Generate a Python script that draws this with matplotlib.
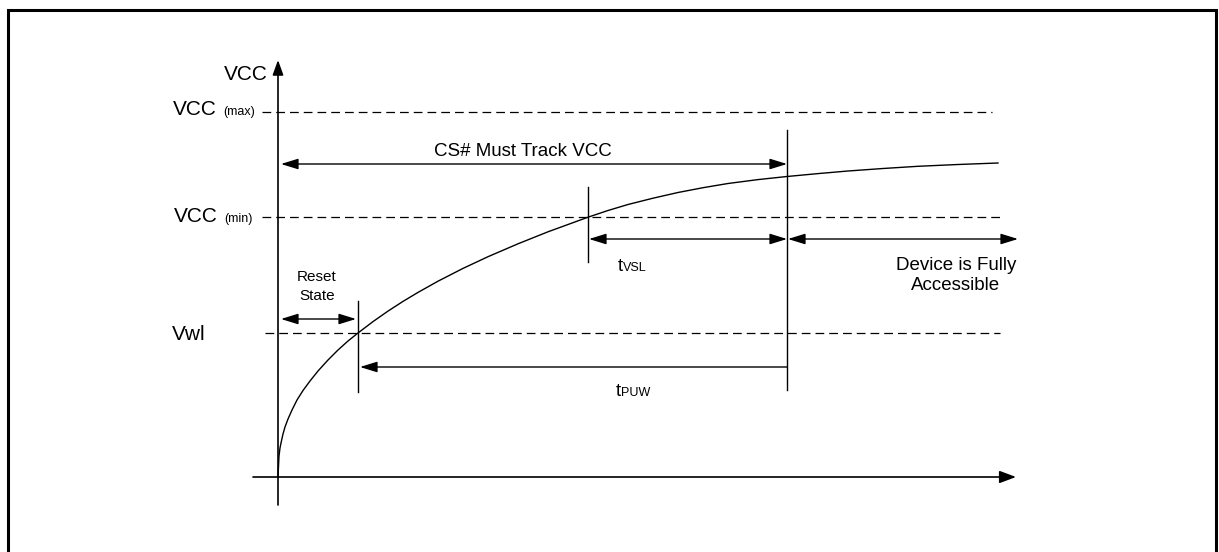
import matplotlib
matplotlib.use("Agg")
import matplotlib.pyplot as plt

plt.rcParams['font.family'] = ['Liberation Sans', 'DejaVu Sans']

# diagram is laid out in pixel units of the 1219x552 picture
W, H = 1219, 552
origin = (278, 477)
y_axis_top = 60
x_axis_end = 1016

# voltage levels (dashed lines)
level_names = ['VCC', 'VCC', 'Vwl']
level_subs = ['(max)', '(min)', '']
level_y = [112, 217, 333]
level_x0 = [262, 262, 265]
level_x1 = [992, 1000, 1000]
level_name_right = [217, 218, 206]
level_baseline = [115, 222, 340]

# VCC ramp (time from origin, rise above the time axis)
ramp_t = [0, 1, 2, 3, 5, 7, 10, 14, 19, 25, 32, 40, 50, 60, 70, 80, 95, 110,
          125, 140, 160, 185, 210, 240, 270, 310, 330, 350, 375, 400, 425, 450,
          480, 509, 540, 570, 605, 640, 680, 720]
ramp_v = [0, 21, 29, 34, 43, 50, 58, 67, 77, 86.5, 96, 106, 117, 127, 136, 144,
          155.4, 165.9, 175.6, 184.6, 195.8, 208.6, 220.3, 233.2, 245.2, 259.8,
          266.5, 272.5, 278.8, 284.5, 289.3, 293.5, 297.4, 300.5, 303.4, 306,
          308.5, 310.7, 312.5, 314]

# vertical timing markers
marker_x = [358, 588, 787]
marker_top = [301, 187, 130]
marker_bottom = [392, 262, 390]

# dimension arrows
dim_x0 = [281, 360, 281, 589, 788]
dim_x1 = [356, 787, 787, 787, 1018]
dim_y = [319, 367, 164, 239, 239]
dim_both = [True, False, True, True, True]

fig = plt.figure(figsize=(W / 100, H / 100), dpi=100)
ax = fig.add_axes([0, 0, 1, 1])
ax.set_xlim(0, W)
ax.set_ylim(H, 0)
ax.axis('off')

# frame
ax.plot([8, 8, 1216, 1216], [H + 10, 9.5, 9.5, H + 10], color='black', lw=2.2,
        solid_joinstyle='miter')


def arrow(x0, y0, x1, y1, style, lw=1.0, scale=25):
    ax.annotate('', xy=(x1, y1), xytext=(x0, y0),
                arrowprops=dict(arrowstyle=style, color='black', lw=lw,
                                shrinkA=0, shrinkB=0, mutation_scale=scale))


# axes
arrow(origin[0], 505, origin[0], y_axis_top, '-|>,head_length=0.36,head_width=0.13', lw=1.2)
arrow(253, origin[1], x_axis_end, origin[1], '-|>,head_length=0.4,head_width=0.15', lw=1.2)
ax.text(268, 80, 'VCC', fontsize=15, ha='right', va='baseline')

# levels
for name, sub, y, x0, x1, xr, yb in zip(level_names, level_subs, level_y, level_x0,
                                        level_x1, level_name_right, level_baseline):
    ax.plot([x0, x1], [y, y], color='black', lw=0.9, linestyle=(0, (7, 4)))
    ax.text(xr, yb, name, fontsize=15, ha='right', va='baseline')
    if sub:
        ax.text(xr + 6, yb, sub, fontsize=9, ha='left', va='baseline')

# ramp
ax.plot([origin[0] + t for t in ramp_t], [origin[1] - v for v in ramp_v],
        color='black', lw=1.0, solid_joinstyle='round')

for x, t, b in zip(marker_x, marker_top, marker_bottom):
    ax.plot([x, x], [t, b], color='black', lw=1.0)

for x0, x1, y, both in zip(dim_x0, dim_x1, dim_y, dim_both):
    if both:
        arrow(x0, y, x1, y, '<|-|>,head_length=0.42,head_width=0.13')
    else:
        arrow(x1, y, x0, y, '-|>,head_length=0.42,head_width=0.13')

# labels
ax.text(523, 151, 'CS# Must Track VCC', fontsize=13.5, ha='center', va='center')
ax.text(317, 277, 'Reset', fontsize=11, ha='center', va='center')
ax.text(317, 296, 'State', fontsize=11, ha='center', va='center')
ax.text(956, 265, 'Device is Fully', fontsize=13.5, ha='center', va='center')
ax.text(956, 285, 'Accessible', fontsize=13.5, ha='center', va='center')

ax.text(623, 271, 't', fontsize=13.5, ha='right', va='baseline')
ax.text(623, 271, 'VSL', fontsize=9, ha='left', va='baseline')
ax.text(621, 396, 't', fontsize=13.5, ha='right', va='baseline')
ax.text(621, 396, 'PUW', fontsize=9, ha='left', va='baseline')

fig.savefig('out.png', dpi=100)
